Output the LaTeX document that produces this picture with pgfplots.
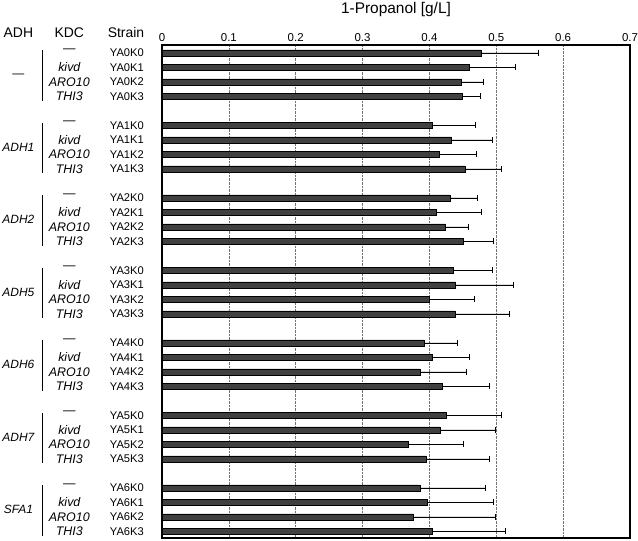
\documentclass[border=0pt]{standalone}
\usepackage{fontspec}
\setmainfont{Liberation Sans}
\usepackage{pgfplots}
\usepackage{pgfplotstable}
\pgfplotsset{compat=1.18}

\definecolor{barfill}{RGB}{64,64,64}

% slot, mean, error (plus only)
\pgfplotstableread{
y x ex strain
0 0.477 0.086 YA0K0
1 0.460 0.069 YA0K1
2 0.448 0.033 YA0K2
3 0.449 0.027 YA0K3
5 0.405 0.064 YA1K0
6 0.433 0.061 YA1K1
7 0.415 0.056 YA1K2
8 0.453 0.054 YA1K3
10 0.431 0.041 YA2K0
11 0.410 0.067 YA2K1
12 0.423 0.035 YA2K2
13 0.451 0.045 YA2K3
15 0.436 0.058 YA3K0
16 0.439 0.087 YA3K1
17 0.400 0.067 YA3K2
18 0.438 0.081 YA3K3
20 0.392 0.050 YA4K0
21 0.405 0.055 YA4K1
22 0.386 0.069 YA4K2
23 0.420 0.070 YA4K3
25 0.425 0.083 YA5K0
26 0.416 0.082 YA5K1
27 0.369 0.082 YA5K2
28 0.395 0.095 YA5K3
30 0.386 0.098 YA6K0
31 0.397 0.099 YA6K1
32 0.376 0.123 YA6K2
33 0.405 0.109 YA6K3
}\datatable

\tikzset{
  head/.style={font=\fontsize{14}{16}\selectfont, inner sep=0pt},
  lab/.style={font=\fontsize{12}{14}\selectfont, inner sep=0pt},
  kdc/.style={font=\fontsize{12.5}{14}\selectfont, inner sep=0pt},
}

% one ADH group: slot of first strain, ADH label
\newcommand\grp[2]{%
  \draw[line width=0.9bp] ([yshift=2.5bp]axis cs:-0.179,#1) -- ([yshift=-48bp]axis cs:-0.179,#1);
  \node[lab] at ([yshift=-21.75bp]axis cs:-0.2148,#1) {#2};
  \node[kdc] at ([yshift=2.5bp]axis cs:-0.1386,#1) {—};
  \node[kdc] at ([yshift=-14.5bp]axis cs:-0.1386,#1) {\itshape kivd};
  \node[kdc] at ([yshift=-29bp]axis cs:-0.1386,#1) {\itshape ARO10};
  \node[kdc] at ([yshift=-43.5bp]axis cs:-0.1386,#1) {\itshape THI3};
}

\begin{document}
\begin{tikzpicture}
\useasboundingbox (-162bp,-3bp) rectangle (476bp,538bp);
\begin{axis}[
  at={(0,0)}, anchor=south west,
  scale only axis, width=468bp, height=493bp,
  xbar, bar width=0.42,
  xmin=0, xmax=0.7,
  ymin=-0.55, ymax=33.45, y dir=reverse,
  xtick={0,0.1,0.2,0.3,0.4,0.5,0.6,0.7},
  xticklabels={0,0.1,0.2,0.3,0.4,0.5,0.6,0.7},
  xticklabel pos=right,
  xticklabel style={font=\fontsize{11.5}{13}\selectfont},
  ytick=data,
  yticklabels from table={\datatable}{strain},
  yticklabel style={font=\fontsize{11.2}{13}\selectfont, inner sep=0pt, xshift=-18bp},
  major tick length=0pt,
  xmajorgrids,
  grid style={densely dotted, black!55, line width=0.7bp},
  axis line style={line width=1.6bp},
  xlabel={1-Propanol [g/L]},
  xlabel style={font=\fontsize{15.5}{17}\selectfont, yshift=10bp},
  clip=false,
]
\addplot[fill=barfill, draw=black, line width=0.6bp,
  error bars/.cd, x dir=plus, x explicit, error mark=|,
  error bar style={line width=0.8bp, black},
  error mark options={mark size=3bp, line width=0.8bp, black}]
  table[x=x, y=y, x error=ex] {\datatable};

\node[head] at ([yshift=12bp]axis cs:-0.2148,-0.55) {ADH};
\node[head] at ([yshift=12bp]axis cs:-0.1386,-0.55) {KDC};
\node[head] at ([yshift=12bp]axis cs:-0.0538,-0.55) {Strain};

\grp{0}{\raisebox{-6bp}{—}}
\grp{5}{\itshape ADH1}
\grp{10}{\itshape ADH2}
\grp{15}{\itshape ADH5}
\grp{20}{\itshape ADH6}
\grp{25}{\itshape ADH7}
\grp{30}{\itshape SFA1}
\end{axis}
\end{tikzpicture}
\end{document}
